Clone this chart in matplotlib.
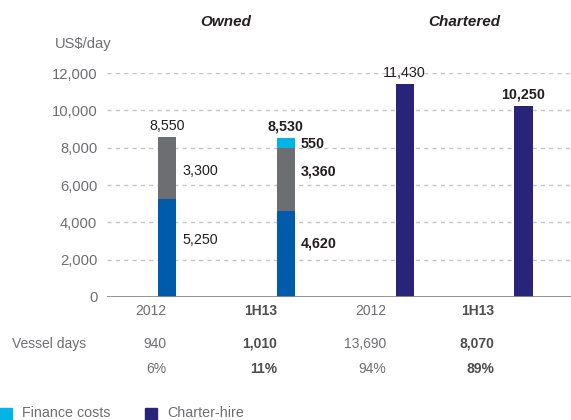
import numpy as np
import matplotlib
matplotlib.use('Agg')
import matplotlib.pyplot as plt
from matplotlib.patches import Rectangle

# Daten
categories = ['2012', '1H13', '2012', '1H13']
bold_cat = [False, True, False, True]
opex = [5250, 4620, 0, 0]          # blau
depreciation = [3300, 3360, 0, 0]  # grau
finance = [0, 550, 0, 0]           # cyan
charter = [0, 0, 11430, 10250]     # navy
totals = [8550, 8530, 11430, 10250]
vessel_days = ['940', '1,010', '13,690', '8,070']
shares = ['6%', '11%', '94%', '89%']

c_blue = '#005BAA'
c_grey = '#6D6E71'
c_cyan = '#00B5E5'
c_navy = '#28247A'
c_txt = '#231F20'
c_tick = '#6D6E71'

plt.rcParams['font.family'] = ['Liberation Sans', 'DejaVu Sans']

W, H = 571, 420
fig = plt.figure(figsize=(W / 100, H / 100), dpi=100)

def fx(px):
    return px / W

def fy(py):
    return 1 - py / H

ax = fig.add_axes([fx(107), fy(297), fx(571) - fx(107), fy(73) - fy(297)])

x = np.arange(len(categories))
bw = 0.152
ax.bar(x, opex, bw, color=c_blue, zorder=3)
ax.bar(x, depreciation, bw, bottom=opex, color=c_grey, zorder=3)
ax.bar(x, finance, bw, bottom=np.array(opex) + np.array(depreciation), color=c_cyan, zorder=3)
ax.bar(x, charter, bw, color=c_navy, zorder=3)

ax.set_xlim(-0.505, 3.40)
ax.set_ylim(0, 12000)
ax.set_yticks(np.arange(0, 12001, 2000))
ax.set_yticklabels(['0' if v == 0 else f'{v:,}' for v in range(0, 12001, 2000)],
                   fontsize=10.6, color=c_tick)
ax.tick_params(axis='y', length=0, pad=7)
ax.set_xticks([])
for s in ax.spines.values():
    s.set_visible(False)
ax.axhline(0, color='#8A8A8A', lw=1.3, zorder=4)
for v in range(2000, 12001, 2000):
    ax.axhline(v, color='#C4C4C4', lw=1, ls=(0, (3, 3)), zorder=1)

# Beschriftungen
off = bw / 2 + 0.05
ax.text(x[0], totals[0] + 250, '8,550', ha='center', va='bottom', fontsize=10.3, color=c_txt)
ax.text(x[0] + off, 6750, '3,300', ha='left', va='center', fontsize=10.3, color=c_txt)
ax.text(x[0] + off, 3050, '5,250', ha='left', va='center', fontsize=10.3, color=c_txt)

ax.text(x[1], totals[1] + 250, '8,530', ha='center', va='bottom', fontsize=10.3,
        color=c_txt, fontweight='bold')
ax.text(x[1] + off, 8220, '550', ha='left', va='center', fontsize=10.3, color=c_txt, fontweight='bold')
ax.text(x[1] + off, 6700, '3,360', ha='left', va='center', fontsize=10.3, color=c_txt, fontweight='bold')
ax.text(x[1] + off, 2880, '4,620', ha='left', va='center', fontsize=10.3, color=c_txt, fontweight='bold')

ax.text(x[2], 12000, '11,430', ha='center', va='center', fontsize=10.3, color=c_txt)
ax.text(x[3], totals[3] + 250, '10,250', ha='center', va='bottom', fontsize=10.3,
        color=c_txt, fontweight='bold')

# Titel
fig.text(fx(226), fy(22), 'Owned', ha='center', va='center', fontsize=11,
         fontweight='bold', style='italic', color=c_txt)
fig.text(fx(464), fy(22), 'Chartered', ha='center', va='center', fontsize=11,
         fontweight='bold', style='italic', color=c_txt)
fig.text(fx(55), fy(44), 'US$/day', ha='left', va='center', fontsize=10.6, color=c_tick)

# Tabelle unten
col_right = [166, 277, 386, 494]
for i in range(len(categories)):
    fw = 'bold' if bold_cat[i] else 'normal'
    col = '#4D4D4F' if bold_cat[i] else c_tick
    fig.text(fx(col_right[i]), fy(311), categories[i], ha='right', va='center',
             fontsize=10, fontweight=fw, color=col)
    fig.text(fx(col_right[i]), fy(344), vessel_days[i], ha='right', va='center',
             fontsize=10, fontweight=fw, color=col)
    fig.text(fx(col_right[i]), fy(369), shares[i], ha='right', va='center',
             fontsize=10, fontweight=fw, color=col)
fig.text(fx(12), fy(344), 'Vessel days', ha='left', va='center', fontsize=10, color=c_tick)

# Legende
fig.patches.append(Rectangle((fx(0), fy(420)), fx(12), fy(408) - fy(420),
                             transform=fig.transFigure, color=c_cyan))
fig.text(fx(22), fy(413), 'Finance costs', ha='left', va='center', fontsize=10.3, color=c_tick)
fig.patches.append(Rectangle((fx(145), fy(420)), fx(12), fy(408) - fy(420),
                             transform=fig.transFigure, color=c_navy))
fig.text(fx(167), fy(413), 'Charter-hire', ha='left', va='center', fontsize=10.3, color=c_tick)

fig.savefig('out.png', dpi=100)
